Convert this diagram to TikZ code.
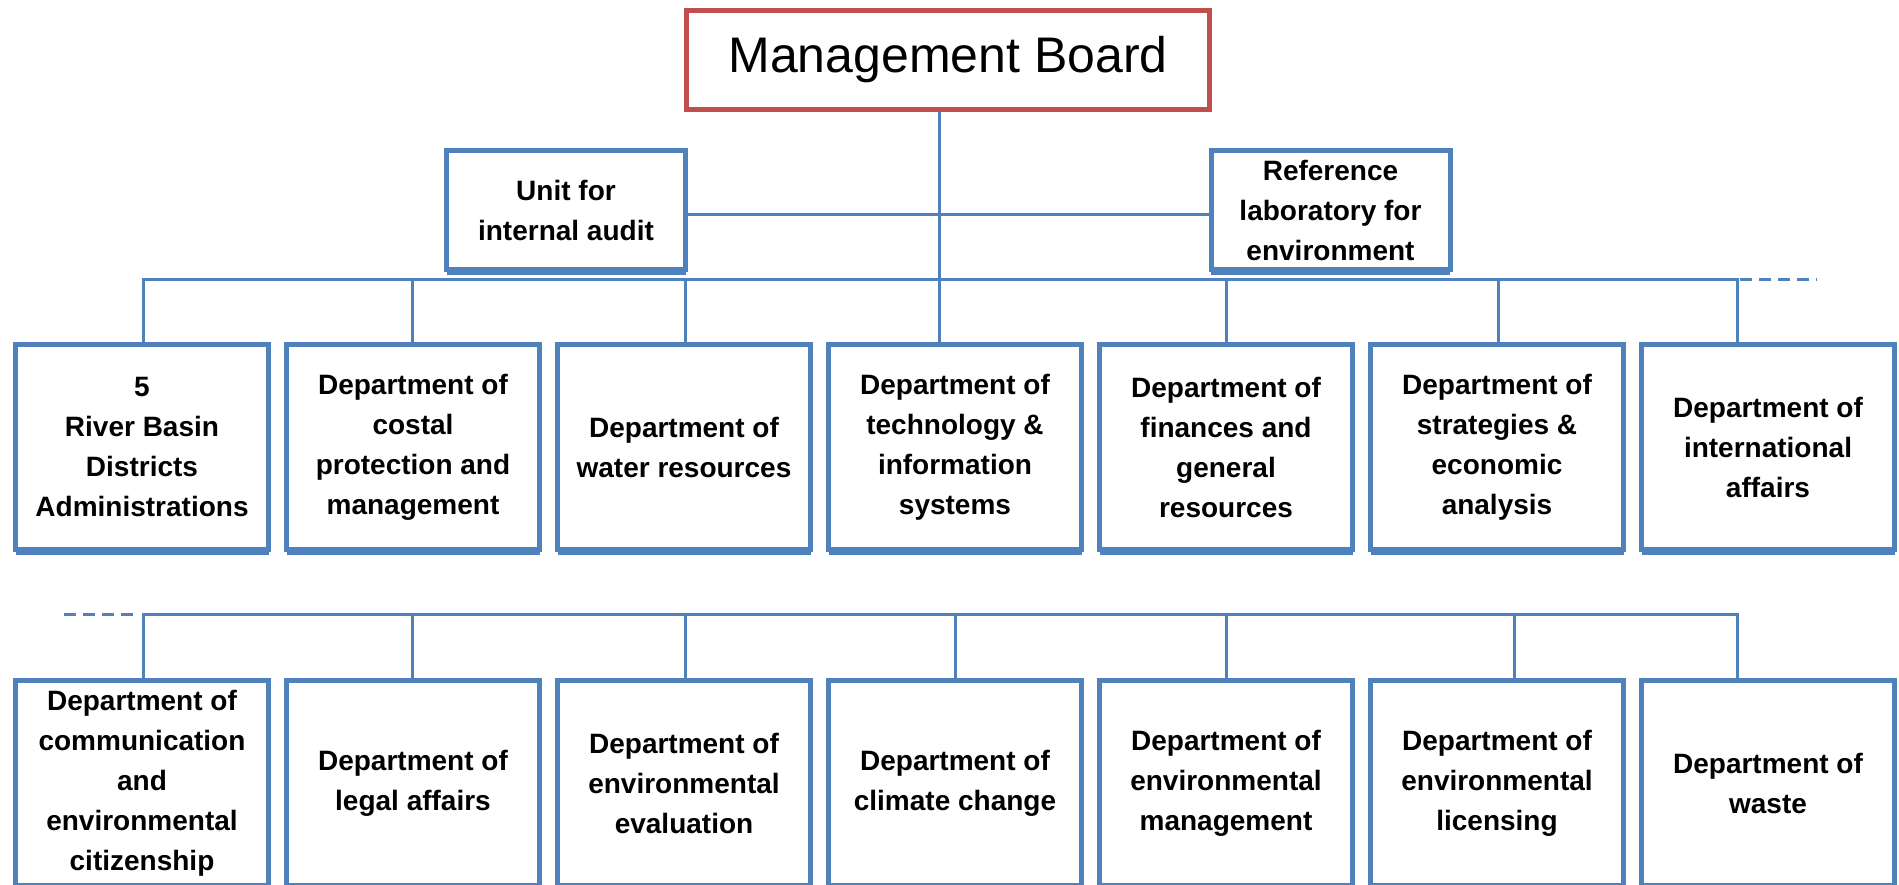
\documentclass[tikz,border=0pt]{standalone}
\usepackage{fontspec}
\setmainfont{Liberation Sans}
\usetikzlibrary{shadows}
\definecolor{boxblue}{HTML}{4F81BD}
\definecolor{boardred}{HTML}{C0504D}
\begin{document}
\begin{tikzpicture}[x=1pt,y=-1pt,
  boxshadow/.style={drop shadow={shadow xshift=0pt,shadow yshift=-5.5pt,fill=boxblue,opacity=1}},
  dept/.style={draw=boxblue,line width=5pt,fill=white,minimum width=253pt,minimum height=205pt,
    inner sep=0pt,align=center,font=\fontsize{28}{40}\selectfont\bfseries,boxshadow},
  unitbox/.style={draw=boxblue,line width=5pt,fill=white,minimum width=239pt,minimum height=119pt,
    inner sep=0pt,align=center,font=\fontsize{28}{40}\selectfont\bfseries,boxshadow},
  board/.style={draw=boardred,line width=5.5pt,fill=white,minimum width=523pt,minimum height=99pt,
    inner sep=0pt,font=\fontsize{50}{60}\selectfont},
  conn/.style={draw=boxblue,line width=3pt},
  dashconn/.style={draw=boxblue,line width=3pt,dash pattern=on 12pt off 7pt}]
\useasboundingbox (0,0) rectangle (1899,885);

% top
\node[board] (mb) at (948,60) {Management Board};
\node[unitbox] (unit) at (566,210) {Unit for\\internal audit};
\node[unitbox] (lab) at (1330.5,210) {Reference\\laboratory for\\environment};

% row 1
\node[dept] (r1a) at (142,447) {5\\River Basin\\Districts\\Administrations};
\node[dept] (r1b) at (413,447) {Department of\\costal\\protection and\\management};
\node[dept] (r1c) at (684,447) {Department of\\water resources};
\node[dept] (r1d) at (955,447) {Department of\\technology \&\\information\\systems};
\node[dept] (r1e) at (1226,447) {Department of\\finances and\\general\\resources};
\node[dept] (r1f) at (1497,447) {Department of\\strategies \&\\economic\\analysis};
\node[dept] (r1g) at (1768,447) {Department of\\international\\affairs};

% row 2
\node[dept] (r2a) at (142,783) {Department of\\communication\\and\\environmental\\citizenship};
\node[dept] (r2b) at (413,783) {Department of\\legal affairs};
\node[dept] (r2c) at (684,783) {Department of\\environmental\\evaluation};
\node[dept] (r2d) at (955,783) {Department of\\climate change};
\node[dept] (r2e) at (1226,783) {Department of\\environmental\\management};
\node[dept] (r2f) at (1497,783) {Department of\\environmental\\licensing};
\node[dept] (r2g) at (1768,783) {Department of\\waste};

% junction coordinates
\coordinate (mbj) at (939,280);
\coordinate (h) at (0,215);
\foreach \n/\x in {r1a/143,r1b/412,r1c/685,r1e/1226,r1f/1498,r1g/1737}
  {\coordinate (t\n) at (\x,280);}
\foreach \n/\x in {r2a/143,r2b/412,r2c/685,r2d/955,r2e/1226,r2f/1514,r2g/1737}
  {\coordinate (t\n) at (\x,614);}
\coordinate (dash1) at (1817,280);
\coordinate (dash2) at (64,614);

% connectors top
\draw[conn] (mb.south -| mbj) -- (mbj |- r1d.north);
\draw[conn] (unit.east |- h) -- (lab.west |- h);

% row 1 bus
\draw[conn] (tr1a |- r1a.north) -- (tr1a) -- (tr1g) -- (tr1g |- r1g.north);
\foreach \n in {r1b,r1c,r1e,r1f}
  {\draw[conn] (t\n) -- (t\n |- \n.north);}
\draw[dashconn] (tr1g) ++(3pt,0) -- (dash1);

% row 2 bus
\draw[conn] (tr2a |- r2a.north) -- (tr2a) -- (tr2g) -- (tr2g |- r2g.north);
\foreach \n in {r2b,r2c,r2d,r2e,r2f}
  {\draw[conn] (t\n) -- (t\n |- \n.north);}
\draw[dashconn] (dash2) -- ([xshift=-4pt]tr2a);
\end{tikzpicture}
\end{document}
